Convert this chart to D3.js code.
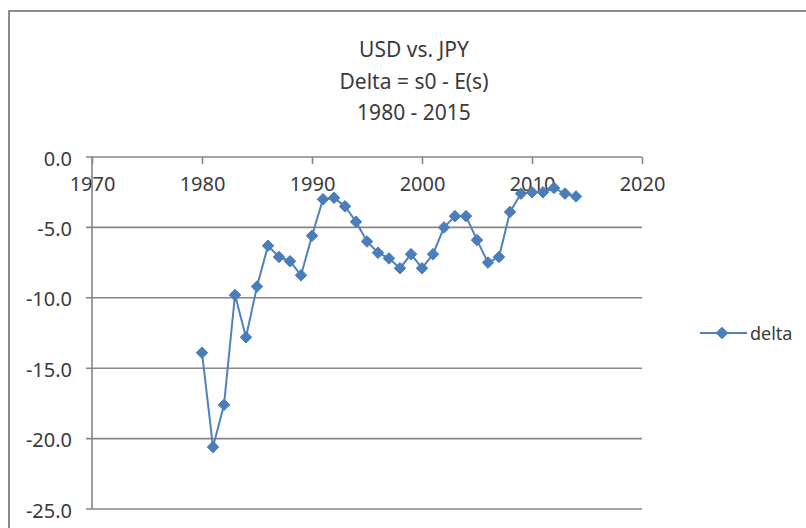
<!DOCTYPE html>
<html>
<head>
<meta charset="utf-8">
<script src="https://cdn.jsdelivr.net/npm/d3@7"></script>
<style>
    body { margin: 0; background: #ffffff; }
    text { font-family: "Noto Sans", "Open Sans", sans-serif; fill: #3a3a3a; }
</style>
</head>
<body>
<div id="delta_chart"></div>
<script>
// Title lines
var titleLines = ["USD vs. JPY", "Delta = s0 - E(s)", "1980 - 2015"];

// Years and delta values
var years = [1980, 1981, 1982, 1983, 1984, 1985, 1986, 1987, 1988, 1989,
             1990, 1991, 1992, 1993, 1994, 1995, 1996, 1997, 1998, 1999,
             2000, 2001, 2002, 2003, 2004, 2005, 2006, 2007, 2008, 2009,
             2010, 2011, 2012, 2013, 2014];
var deltaValues = [-13.9, -20.6, -17.6, -9.8, -12.8, -9.2, -6.3, -7.1, -7.4, -8.4,
                   -5.6, -3.0, -2.9, -3.5, -4.6, -6.0, -6.8, -7.2, -7.9, -6.9,
                   -7.9, -6.9, -5.0, -4.2, -4.2, -5.9, -7.5, -7.1, -3.9, -2.6,
                   -2.5, -2.5, -2.2, -2.6, -2.8];

// Axis ticks
var xTicks = [1970, 1980, 1990, 2000, 2010, 2020];
var yTicks = [0, -5, -10, -15, -20, -25];
var seriesName = "delta";

function create_delta_chart(width, height) {
    var plot = { left: 92, right: 642, top: 157, bottom: 509 };
    var lineColor = "#4f81bd";
    var markerColor = "#4a7ebb";
    var gridColor = "#868686";

    d3.select("#delta_chart").select("svg").remove();

    var svg = d3.select("#delta_chart").append("svg")
        .attr("width", width)
        .attr("height", height);

    // Chart area border
    svg.append("rect")
        .attr("x", 9)
        .attr("y", 11)
        .attr("width", width)
        .attr("height", height)
        .attr("fill", "#ffffff")
        .attr("stroke", "#8c8c8c")
        .attr("stroke-width", 2);

    var data = years.map((y, i) => ({ year: y, value: deltaValues[i] }));

    // Scales
    var x = d3.scaleLinear().domain([1970, 2020]).range([plot.left, plot.right]);
    var y = d3.scaleLinear().domain([-25, 0]).range([plot.bottom, plot.top]);

    // Excel style labels: plain hyphen, one decimal
    var fmt = d => d3.format(".1f")(d).replace("\u2212", "-");

    // Title
    svg.append("g").selectAll("text")
        .data(titleLines)
        .enter().append("text")
        .attr("x", 414)
        .attr("y", (d, i) => 49 + i * 31.7)
        .attr("text-anchor", "middle")
        .attr("dominant-baseline", "central")
        .style("font-size", "21px")
        .text(d => d);

    // Horizontal gridlines (with the little tick stub on the left)
    svg.append("g").selectAll("line")
        .data(yTicks)
        .enter().append("line")
        .attr("x1", plot.left - 6)
        .attr("x2", plot.right)
        .attr("y1", d => y(d))
        .attr("y2", d => y(d))
        .attr("stroke", gridColor)
        .attr("stroke-width", 1.6);

    // Vertical axis line
    svg.append("line")
        .attr("x1", plot.left).attr("x2", plot.left)
        .attr("y1", y(0)).attr("y2", y(-25))
        .attr("stroke", gridColor)
        .attr("stroke-width", 1.6);

    // Y axis labels
    var yAxis = d3.axisLeft(y).tickValues(yTicks).tickSize(0).tickPadding(20)
        .tickFormat(fmt);
    var gy = svg.append("g")
        .attr("transform", "translate(" + plot.left + ",0)")
        .call(yAxis);
    gy.select(".domain").remove();
    gy.selectAll("text")
        .attr("dy", "0.4em")
        .style("font-size", "20px")
        .style("font-family", "Noto Sans")
        .attr("fill", "#3a3a3a");

    // X axis sits on y = 0 (top of plot), ticks pointing down
    var xAxis = d3.axisBottom(x).tickValues(xTicks).tickSize(7).tickPadding(13)
        .tickFormat(d3.format("d"));
    var gx = svg.append("g")
        .attr("transform", "translate(0," + y(0) + ")")
        .call(xAxis);
    gx.select(".domain").remove();
    gx.selectAll("line").attr("stroke", gridColor).attr("stroke-width", 1.6);
    gx.selectAll("text")
        .style("font-size", "20px")
        .style("font-family", "Noto Sans")
        .attr("fill", "#3a3a3a");

    // Series line
    var line = d3.line().x(d => x(d.year)).y(d => y(d.value));
    svg.append("path")
        .datum(data)
        .attr("fill", "none")
        .attr("stroke", lineColor)
        .attr("stroke-width", 2)
        .attr("d", line);

    // Diamond markers
    var diamond = d3.symbol().type(d3.symbolDiamond2).size(85);
    svg.append("g").selectAll("path")
        .data(data)
        .enter().append("path")
        .attr("transform", d => "translate(" + x(d.year) + "," + y(d.value) + ")")
        .attr("d", diamond)
        .attr("fill", markerColor)
        .attr("stroke", markerColor)
        .attr("stroke-width", 1);

    // Legend
    var legend = svg.append("g").attr("transform", "translate(700,333)");
    legend.append("line")
        .attr("x1", 0).attr("x2", 47)
        .attr("y1", 0).attr("y2", 0)
        .attr("stroke", lineColor)
        .attr("stroke-width", 2);
    legend.append("path")
        .attr("transform", "translate(22,0)")
        .attr("d", diamond)
        .attr("fill", markerColor)
        .attr("stroke", markerColor);
    legend.append("text")
        .attr("x", 50)
        .attr("y", 0)
        .attr("dominant-baseline", "central")
        .style("font-size", "18px")
        .text(seriesName);
}

create_delta_chart(806, 528);
</script>
</body>
</html>
